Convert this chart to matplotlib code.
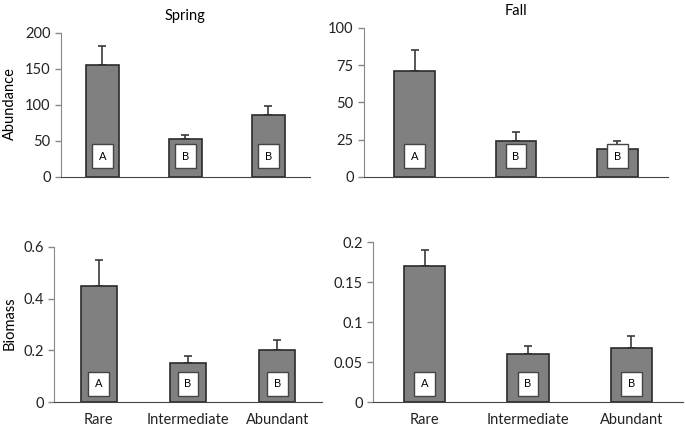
import numpy as np
import matplotlib
matplotlib.use('Agg')
from matplotlib import pyplot as plt

plt.rcParams['font.family'] = ['Lato', 'DejaVu Sans']

categories = ['Rare', 'Intermediate', 'Abundant']
letters = ['A', 'B', 'B']

spring_abund = [155, 53, 86]
spring_abund_err = [27, 5, 13]
fall_abund = [71, 24, 19]
fall_abund_err = [14, 6, 5]
spring_bio = [0.45, 0.15, 0.20]
spring_bio_err = [0.10, 0.03, 0.04]
fall_bio = [0.17, 0.06, 0.068]
fall_bio_err = [0.02, 0.01, 0.015]

fig = plt.figure(figsize=(6.85, 4.30), dpi=100)

panels = [
    # rect, values, errors, ylim, ticks, ticklabels, title, xlabels, letter offset(pt)
    ([0.089, 0.5884, 0.3635, 0.335], spring_abund, spring_abund_err, 200, [0, 50, 100, 150, 200],
     ['0', '50', '100', '150', '200'], 'Spring', False, 15),
    ([0.5314, 0.5884, 0.4438, 0.3465], fall_abund, fall_abund_err, 100, [0, 25, 50, 75, 100],
     ['0', '25', '50', '75', '100'], 'Fall', False, 15),
    ([0.0788, 0.0651, 0.3912, 0.3605], spring_bio, spring_bio_err, 0.6, [0, 0.2, 0.4, 0.6],
     ['0', '0.2', '0.4', '0.6'], None, True, 13),
    ([0.5445, 0.0651, 0.4526, 0.372], fall_bio, fall_bio_err, 0.2, [0, 0.05, 0.1, 0.15, 0.2],
     ['0', '0.05', '0.1', '0.15', '0.2'], None, True, 13),
]

x = np.arange(len(categories))
for rect, vals, errs, ymax, ticks, tlabels, title, showx, off in panels:
    ax = fig.add_axes(rect)
    ax.bar(x, vals, width=0.4, color='#808080', edgecolor='#2b2b2b', linewidth=1.2, zorder=2)
    ax.errorbar(x, vals, yerr=[np.zeros(len(vals)), errs], fmt='none', ecolor='#3a3a3a',
                elinewidth=1.2, capsize=3, capthick=1.2, zorder=1)
    for xi, lt in zip(x, letters):
        ax.annotate(lt, (xi, 0), xytext=(0, off), textcoords='offset points',
                    ha='center', va='center', fontsize=8, zorder=3,
                    bbox=dict(boxstyle='square,pad=0.6', fc='white', ec='#444444', lw=1))
    ax.set_xlim(-0.5, 2.5)
    ax.set_ylim(0, ymax)
    ax.set_yticks(ticks)
    ax.set_yticklabels(tlabels, fontsize=10.5, color='#222222')
    if showx:
        ax.set_xticks(x)
        ax.set_xticklabels(categories, fontsize=10.5, color='#222222')
        ax.tick_params(axis='x', length=0, pad=8)
    else:
        ax.set_xticks([])
    ax.tick_params(axis='y', length=4, color='#888888', width=1)
    for s in ['top', 'right']:
        ax.spines[s].set_visible(False)
    ax.spines['left'].set_color('#888888')
    ax.spines['bottom'].set_color('#444444')
    if title:
        ax.set_title(title, fontsize=10.5, pad=9)

fig.text(0.014, 0.76, 'Abundance', rotation=90, ha='center', va='center', fontsize=10.5)
fig.text(0.014, 0.249, 'Biomass', rotation=90, ha='center', va='center', fontsize=10.5)

plt.savefig('out.png', dpi=100)
